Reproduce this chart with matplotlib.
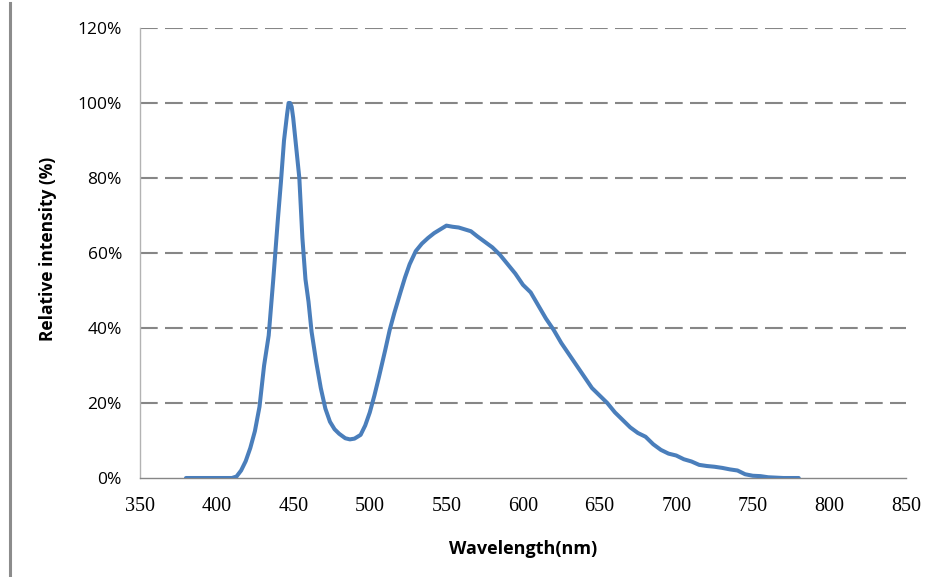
import matplotlib
matplotlib.use("Agg")
import matplotlib.pyplot as plt
from matplotlib.lines import Line2D
from matplotlib.ticker import FuncFormatter

wavelength = [380, 390, 400, 410, 413, 416, 419, 422, 425, 428, 431, 434, 437, 440, 442, 444,
              446, 447, 448, 449, 450, 452, 454, 456, 458, 460, 462, 465, 468, 471, 474, 477,
              480, 484, 487, 490, 494, 497, 500, 503, 506, 510, 513, 516, 520, 523, 526, 530,
              534, 538, 542, 546, 550, 554, 558, 562, 566, 570, 575, 580, 585, 590, 595, 600,
              605, 610, 615, 620, 625, 630, 635, 640, 645, 650, 655, 660, 665, 670, 675, 680,
              685, 690, 695, 700, 705, 710, 715, 720, 725, 730, 735, 740, 745, 750, 755, 760,
              770, 780]
intensity = [0, 0, 0, 0, 0.4, 2, 4.5, 8, 12.5, 19, 30, 38, 53, 69, 79, 90,
             97, 100, 100, 99, 96, 88, 80, 64, 53, 47, 39, 31, 24, 18.5, 15, 13,
             11.8, 10.6, 10.3, 10.5, 11.5, 14, 17.5, 22, 27, 34, 39.5, 44, 49.5, 53.5, 57, 60.5,
             62.5, 64, 65.3, 66.3, 67.3, 67, 66.8, 66.3, 65.8, 64.5, 63, 61.5, 59.5, 57, 54.5, 51.5,
             49.5, 46, 42.5, 39.5, 36, 33, 30, 27, 24, 22, 20, 17.5, 15.5, 13.5, 12, 11,
             9, 7.5, 6.5, 6, 5, 4.4, 3.5, 3.2, 3, 2.7, 2.3, 2, 1, 0.6, 0.5, 0.2,
             0, 0]
x_ticks = [350, 400, 450, 500, 550, 600, 650, 700, 750, 800, 850]
y_ticks = [0, 20, 40, 60, 80, 100, 120]

fig = plt.figure(figsize=(9.35, 5.77), dpi=100)
ax = fig.add_axes([140/935, 1 - 478/577, 766/935, 450/577])

ax.plot(wavelength, intensity, color="#4a7ebb", lw=2.9, solid_joinstyle="round",
        solid_capstyle="round", zorder=3)

ax.set_xlim(350, 850)
ax.set_ylim(0, 120)
ax.set_xticks(x_ticks)
ax.set_yticks(y_ticks)
ax.yaxis.set_major_formatter(FuncFormatter(lambda v, p: f"{int(v)}%"))

for y in y_ticks[1:]:
    ax.axhline(y, color="#868686", lw=1.5, ls=(0, (8.5, 3.5)), zorder=1)

for s in ["top", "right"]:
    ax.spines[s].set_visible(False)
ax.spines["left"].set_color("#b3b3b3")
ax.spines["left"].set_linewidth(1.0)
ax.spines["bottom"].set_color("#868686")
ax.spines["bottom"].set_linewidth(1.0)

ax.tick_params(axis="both", length=0)
ax.tick_params(axis="x", pad=14)
ax.tick_params(axis="y", pad=13)
for lbl in ax.get_xticklabels():
    lbl.set_fontfamily("Liberation Serif")
    lbl.set_fontsize(14.5)
for lbl in ax.get_yticklabels():
    lbl.set_fontfamily("Open Sans")
    lbl.set_fontsize(12.5)

ax.set_xlabel("Wavelength(nm)", fontfamily="Open Sans", fontweight="bold", fontsize=13)
ax.set_ylabel("Relative intensity (%)", fontfamily="Open Sans", fontweight="bold", fontsize=12.5)
ax.xaxis.set_label_coords(0.5, -0.137)
ax.yaxis.set_label_coords(-0.108, 0.51)

fig.add_artist(Line2D([9.5/935, 9.5/935], [0.0, 0.995], transform=fig.transFigure,
                      color="#8c8c8c", lw=2.2))

fig.savefig("out.png", dpi=100)
